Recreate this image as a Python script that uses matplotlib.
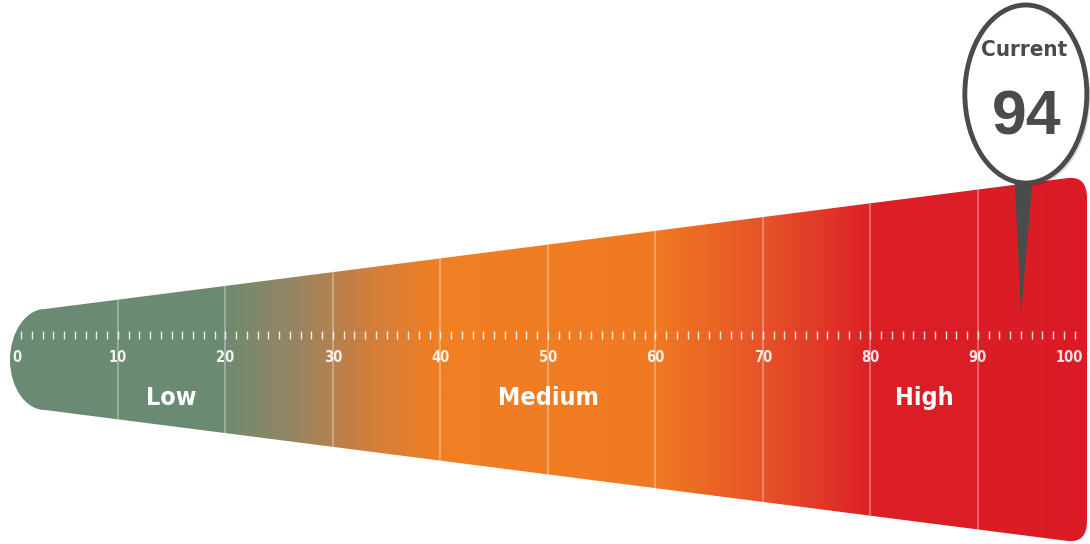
import numpy as np
import matplotlib
matplotlib.use('Agg')
import matplotlib.pyplot as plt
from matplotlib.path import Path
from matplotlib.patches import PathPatch, Ellipse, Polygon
from matplotlib.colors import LinearSegmentedColormap

# scale data
scale_min, scale_max = 0, 100
major_values = [0, 10, 20, 30, 40, 50, 60, 70, 80, 90, 100]
minor_values = list(range(1, 100))
band_names = ['Low', 'Medium', 'High']
band_ranges = [(0, 30), (30, 70), (70, 100)]
current_value = 94
current_label = 'Current'

# pixel layout of the wedge (value axis runs left to right)
PX_PER_UNIT = 10.75
X0 = 10.5


def u(px):
    return (px - X0) / PX_PER_UNIT


NARROW = ['DejaVu Sans']
DARK = '#4b4b4b'

fig = plt.figure(figsize=(10.9, 5.44), dpi=100)
ax = fig.add_axes([0, 0, 1, 1])

# wedge outline: rounded cap on the left, rounded corners on the right
verts = [
    (u(45), 309),
    (u(1068), 178),
    (u(1087), 176), (u(1087), 198),
    (u(1087), 521),
    (u(1087), 543), (u(1068), 541),
    (u(45), 410),
    (u(26), 410), (u(10), 388), (u(10), 360),
    (u(10), 332), (u(26), 309), (u(45), 309),
    (u(45), 309),
]
codes = [Path.MOVETO, Path.LINETO,
         Path.CURVE3, Path.CURVE3,
         Path.LINETO,
         Path.CURVE3, Path.CURVE3,
         Path.LINETO,
         Path.CURVE4, Path.CURVE4, Path.CURVE4,
         Path.CURVE4, Path.CURVE4, Path.CURVE4,
         Path.CLOSEPOLY]
wedge = PathPatch(Path(verts, codes), facecolor='none', edgecolor='none')
ax.add_patch(wedge)

cmap = LinearSegmentedColormap.from_list('risk', [
    (0.00, '#6a8b74'), (0.20, '#6c8a72'), (0.27, '#978562'),
    (0.34, '#d27e3c'), (0.40, '#f07f24'), (0.60, '#f07a22'),
    (0.70, '#e65429'), (0.80, '#dc2026'), (1.00, '#da1b25')])
grad = np.linspace(0, 1, 512).reshape(1, -1)
img = ax.imshow(grad, extent=(u(0), u(1090), 545, 170), aspect='auto',
                cmap=cmap, interpolation='bilinear', zorder=1)
img.set_clip_path(wedge)

# faint major grid lines across the wedge
for v in major_values[1:-1]:
    ln = ax.vlines(v, 170, 545, color='white', lw=1.5, alpha=0.3, zorder=2)
    ln.set_clip_path(wedge)

# minor ticks
ax.vlines(minor_values, 331, 339, color='white', lw=1, alpha=0.85, zorder=3)

# numeric labels
for v in major_values:
    if v == scale_min:
        x, ha = v + 0.15, 'left'
    elif v == scale_max:
        x, ha = v - 0.2, 'right'
    else:
        x, ha = v, 'center'
    ax.text(x, 358, str(v), ha=ha, va='center', fontsize=10.5,
            fontweight='bold', family=NARROW, stretch='condensed',
            color='white', alpha=0.9, zorder=4)

# band names
for name, (lo, hi) in zip(band_names, band_ranges):
    ax.text((lo + hi) / 2, 398, name, ha='center', va='center', fontsize=18,
            fontweight='bold', family=NARROW, stretch='condensed',
            color='white', zorder=4)

# current value pin
needle = Polygon([(current_value - 0.6, 178), (current_value + 1.1, 178),
                  (current_value, 314)], closed=True, facecolor=DARK,
                 edgecolor='none', zorder=5)
ax.add_patch(needle)
cx = current_value + 0.45
shadow = Ellipse((cx + 0.3, 97), 11.35, 178, facecolor='#000000', alpha=0.15,
                 edgecolor='none', zorder=5)
ax.add_patch(shadow)
bubble = Ellipse((cx, 94), 11.35, 178, facecolor='white', edgecolor=DARK,
                 lw=3.5, zorder=6)
ax.add_patch(bubble)
ax.text(cx - 0.2, 50, current_label, ha='center', va='center', fontsize=16,
        fontweight='bold', family=NARROW, stretch='condensed', color=DARK, zorder=7)
ax.text(cx + 0.1, 118, str(current_value), ha='center', va='center', fontsize=45,
        fontweight='bold', family=['Liberation Sans', 'DejaVu Sans'], color=DARK, zorder=7)

ax.set_xlim(u(0), u(1090))
ax.set_ylim(544, 0)
ax.axis('off')
fig.savefig('out.png', dpi=100, facecolor='white')
